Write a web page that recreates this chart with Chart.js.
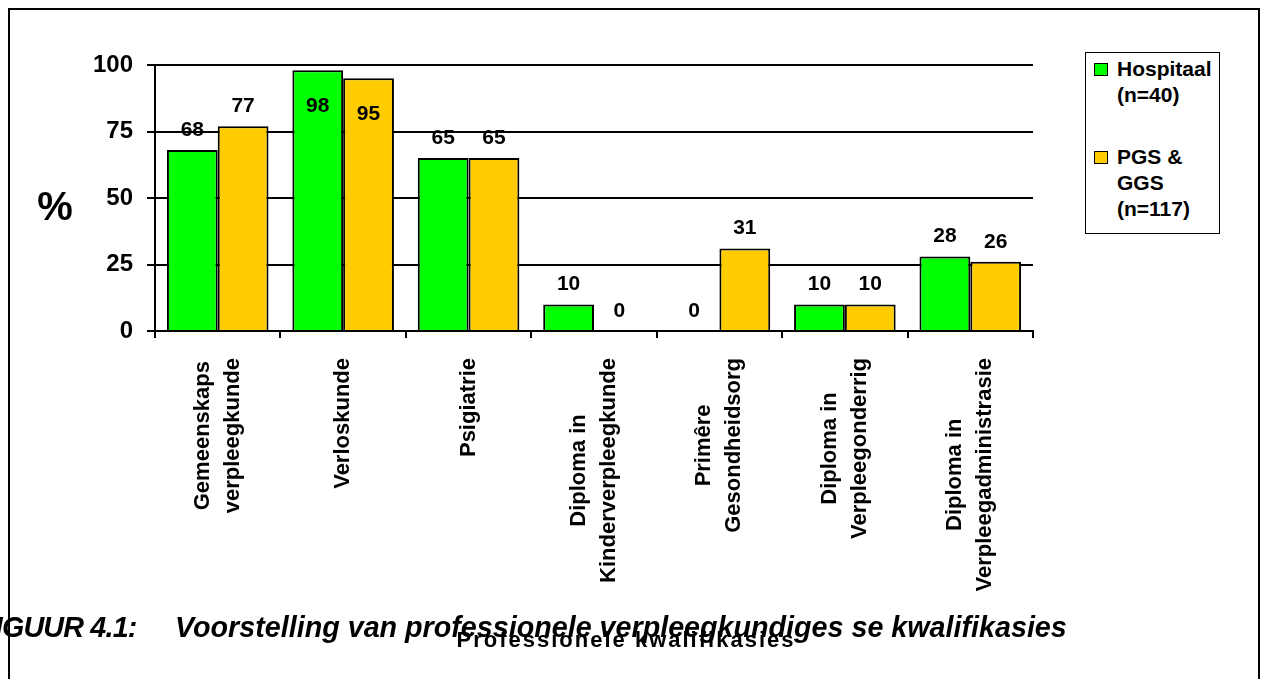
<!DOCTYPE html>
<html>
<head>
<meta charset="utf-8">
<script src="https://cdn.jsdelivr.net/npm/chart.js@4/dist/chart.umd.min.js"></script>
<style>
  html, body { margin: 0; padding: 0; overflow: hidden; background: #fff; }
  body { width: 1264px; height: 679px; position: relative; font-family: "Liberation Sans", Arial, sans-serif; }
  #frame { position: absolute; left: 8px; top: 8px; width: 1248px; height: 700px; border: 2px solid #000; }
  #chart { display: block; }
  #legend { position: absolute; left: 1085px; top: 52px; width: 133px; height: 180px; border: 1.5px solid #000; background: #fff; }
  .entry { position: relative; padding-left: 31px; font-weight: bold; font-size: 21px; line-height: 26px; color: #000; }
  .entry .box { position: absolute; left: 8px; top: 7px; width: 12px; height: 11px; border: 1px solid #000; }
  #caption { position: absolute; left: 0; top: 610px; width: 1264px; height: 34px; white-space: pre; font-weight: bold; font-style: italic; font-size: 28.7px; line-height: 34px; color: #000; }
  #caption span { position: absolute; top: 0; }
  #caption .num { left: -22px; letter-spacing: -0.8px; }
  #caption .txt { left: 175px; }
</style>
</head>
<body>
<div id="frame"><canvas id="chart" width="1248" height="700"></canvas></div>
<div id="legend"></div>
<div id="caption"><span class="num">FIGUUR 4.1:</span><span class="txt">Voorstelling van professionele verpleegkundiges se kwalifikasies</span></div>
<script>
  // categories, one array of lines per category
  var categories = [
    ['Gemeenskaps', 'verpleegkunde'],
    ['Verloskunde'],
    ['Psigiatrie'],
    ['Diploma in', 'Kinderverpleegkunde'],
    ['Primêre', 'Gesondheidsorg'],
    ['Diploma in', 'Verpleegonderrig'],
    ['Diploma in', 'Verpleegadministrasie']
  ];
  var hospitaal = [68, 98, 65, 10, 0, 10, 28];
  var pgsGgs = [77, 95, 65, 0, 31, 10, 26];
  var seriesNames = [['Hospitaal', '(n=40)'], ['PGS &', 'GGS', '(n=117)']];
  var seriesColors = ['#00ff00', '#ffcc00'];
  var yTicks = [0, 25, 50, 75, 100];
  var yTitle = '%';
  var xTitle = 'Professionele kwalifikasies';

  var FONT = '"Liberation Sans", Arial, sans-serif';

  // legend as html, built from the series names
  var legend = document.getElementById('legend');
  seriesNames.forEach(function (lines, i) {
    var e = document.createElement('div');
    e.className = 'entry';
    e.style.marginTop = i === 0 ? '3px' : '36px';
    var b = document.createElement('span');
    b.className = 'box';
    b.style.background = seriesColors[i];
    e.appendChild(b);
    lines.forEach(function (l, k) {
      if (k > 0) e.appendChild(document.createElement('br'));
      e.appendChild(document.createTextNode(l));
    });
    legend.appendChild(e);
  });

  // value labels, category labels and axis titles
  var extras = {
    id: 'extras',
    afterDatasetsDraw: function (chart) {
      var ctx = chart.ctx;
      var area = chart.chartArea;
      var xs = chart.scales.x;
      var ys = chart.scales.y;
      ctx.save();
      ctx.fillStyle = '#000';
      ctx.textAlign = 'center';
      ctx.textBaseline = 'middle';

      ctx.font = 'bold 21px ' + FONT;
      chart.data.datasets.forEach(function (ds, i) {
        chart.getDatasetMeta(i).data.forEach(function (bar, j) {
          var v = ds.data[j];
          var y = v >= 90 ? bar.y + 36 : bar.y - 20;
          ctx.fillText(String(v), bar.x, y);
        });
      });

      ctx.font = 'bold 22px ' + FONT;
      var lh = 30;
      var top = area.bottom + 27;
      categories.forEach(function (lines, i) {
        var x = xs.getPixelForValue(i);
        var w = 0;
        lines.forEach(function (l) { w = Math.max(w, ctx.measureText(l).width); });
        ctx.save();
        ctx.translate(x, top);
        ctx.rotate(-Math.PI / 2);
        lines.forEach(function (l, k) {
          ctx.fillText(l, -w / 2, (k - (lines.length - 1) / 2) * lh);
        });
        ctx.restore();
      });

      ctx.font = 'bold 40px ' + FONT;
      ctx.fillText(yTitle, ys.left + 35, (area.top + area.bottom) / 2 + 11);

      ctx.font = 'bold 22px ' + FONT;
      ctx.letterSpacing = '2px';
      ctx.fillText(xTitle, chart.width / 2 - 8, xs.bottom - 19);
      ctx.restore();
    }
  };

  var ctx = document.getElementById('chart').getContext('2d');
  var chart = new Chart(ctx, {
    type: 'bar',
    data: {
      labels: categories,
      datasets: [{
        label: seriesNames[0].join(' '),
        data: hospitaal,
        backgroundColor: seriesColors[0],
        borderColor: '#000',
        borderWidth: 2
      }, {
        label: seriesNames[1].join(' '),
        data: pgsGgs,
        backgroundColor: seriesColors[1],
        borderColor: '#000',
        borderWidth: 2
      }]
    },
    options: {
      responsive: false,
      animation: false,
      devicePixelRatio: 1,
      categoryPercentage: 0.81,
      barPercentage: 1.0,
      layout: { padding: { left: 10, top: 55, right: 225, bottom: 50 } },
      plugins: { legend: { display: false }, tooltip: { enabled: false } },
      scales: {
        x: {
          afterFit: function (s) { s.height = 329; },
          ticks: { display: false },
          grid: { offset: true, drawOnChartArea: false, drawTicks: true, tickLength: 7, color: '#000', lineWidth: 2 },
          border: { display: true, color: '#000', width: 2 }
        },
        y: {
          min: 0,
          max: 100,
          afterFit: function (s) { s.width = 135; },
          afterBuildTicks: function (s) { s.ticks = yTicks.map(function (v) { return { value: v }; }); },
          ticks: { color: '#000', padding: 14, font: { family: FONT, size: 24, weight: 'bold' } },
          grid: { color: '#000', lineWidth: 2, tickLength: 8 },
          border: { display: true, color: '#000', width: 2 }
        }
      }
    },
    plugins: [extras]
  });
</script>
</body>
</html>
